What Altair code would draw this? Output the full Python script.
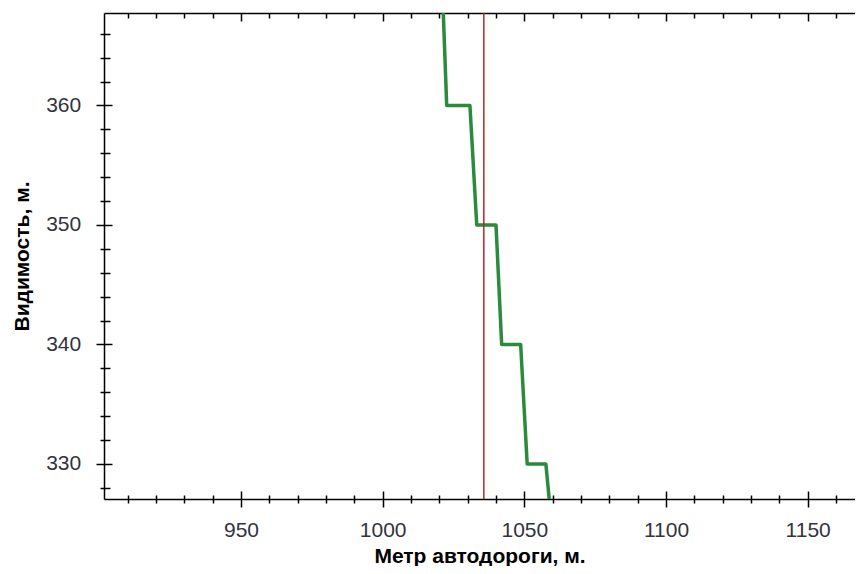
import altair as alt
import pandas as pd

# ---- data ----
road_m = [1021.2, 1022.6, 1030.8, 1033.2, 1040.0, 1042.0, 1048.7, 1051.0, 1057.6, 1059.2]
visibility_m = [369, 360, 360, 350, 350, 340, 340, 330, 330, 326]
marker_m = [1035.7]

x_major = [950, 1000, 1050, 1100, 1150]
x_minor = [910, 920, 930, 940, 960, 970, 980, 990, 1010, 1020, 1030, 1040,
           1060, 1070, 1080, 1090, 1110, 1120, 1130, 1140, 1160]
y_major = [330, 340, 350, 360]
y_minor = [328, 332, 334, 336, 338, 342, 344, 346, 348, 352, 354, 356, 358,
           362, 364, 366]

X_DOMAIN = [901.65, 1166.7]
Y_DOMAIN = [327.07, 367.74]

FONT = "Liberation Sans"
W, H = 751, 486

df = pd.DataFrame({"x": road_m, "y": visibility_m, "i": list(range(len(road_m)))})
mk = pd.DataFrame({"x": marker_m})

xs = alt.Scale(domain=X_DOMAIN, nice=False, zero=False)
ys = alt.Scale(domain=Y_DOMAIN, nice=False, zero=False)


def tick_axis(orient, values, size, offset=0):
    return alt.Axis(orient=orient, values=values, tickSize=size, offset=offset,
                    labels=False, title=None, domain=False, grid=False)


main = alt.Chart(df).mark_line(
    color="#2b8a3c", strokeWidth=3.5, clip=True, strokeJoin="round"
).encode(
    x=alt.X("x:Q", scale=xs, axis=alt.Axis(
        orient="bottom", values=x_major, tickSize=8, format="d",
        labelFontSize=21, labelColor="#33333d", labelPadding=29.7,
        labelBaseline="alphabetic",
        title="Метр автодороги, м.", titleFontSize=21, titleFontWeight="bold",
        titleColor="#000000", titleY=63, titleBaseline="alphabetic",
        domain=True, grid=False)),
    y=alt.Y("y:Q", scale=ys, axis=alt.Axis(
        orient="left", values=y_major, tickSize=8, format="d",
        labelFontSize=21, labelColor="#33333d", labelPadding=15.3,
        title="Видимость, м.", titleFontSize=21, titleFontWeight="bold",
        titleColor="#000000", titleX=-76, titleY=H / 2,
        titleBaseline="alphabetic", domain=True, grid=False)),
    order="i:O",
)

inv = alt.Chart(df).mark_line(opacity=0, clip=True)

l_major_in = inv.encode(
    x=alt.X("x:Q", scale=xs, axis=tick_axis("bottom", x_major, 8, -8)),
    y=alt.Y("y:Q", scale=ys, axis=tick_axis("left", y_major, 8, -8)),
    order="i:O")
l_minor_out = inv.encode(
    x=alt.X("x:Q", scale=xs, axis=tick_axis("bottom", x_minor, 4)),
    y=alt.Y("y:Q", scale=ys, axis=tick_axis("left", y_minor, 4)),
    order="i:O")
l_minor_in = inv.encode(
    x=alt.X("x:Q", scale=xs, axis=tick_axis("bottom", x_minor, 4, -4)),
    y=alt.Y("y:Q", scale=ys, axis=tick_axis("left", y_minor, 6, -6)),
    order="i:O")
l_top_major = inv.encode(
    x=alt.X("x:Q", scale=xs, axis=tick_axis("top", x_major, 8, -8)),
    y=alt.Y("y:Q", scale=ys, axis=None),
    order="i:O")
l_top_minor = inv.encode(
    x=alt.X("x:Q", scale=xs, axis=tick_axis("top", x_minor, 5, -5)),
    y=alt.Y("y:Q", scale=ys, axis=None),
    order="i:O")
l_top_line = inv.encode(
    x=alt.X("x:Q", scale=xs, axis=alt.Axis(
        orient="top", values=x_major, ticks=False, labels=False, title=None,
        domain=True, grid=False)),
    y=alt.Y("y:Q", scale=ys, axis=None),
    order="i:O")

red = alt.Chart(mk).mark_rule(color="#b3262c", strokeWidth=1.5).encode(
    x=alt.X("x:Q", scale=xs, axis=None)
)

chart = alt.layer(
    main, l_major_in, l_minor_out, l_minor_in, l_top_major, l_top_minor,
    l_top_line, red
).resolve_axis(
    x="independent", y="independent"
).properties(
    width=W, height=H,
    padding={"left": 96, "top": 5, "right": 0, "bottom": 67},
    autosize=alt.AutoSizeParams(type="none"),
).configure_view(
    stroke=None
).configure_axis(
    tickColor="#000000", tickWidth=1.5, domainColor="#000000", domainWidth=1.5,
    labelFont=FONT, titleFont=FONT
)

chart.save("out.html", embed_options={"renderer": "svg", "actions": False})
